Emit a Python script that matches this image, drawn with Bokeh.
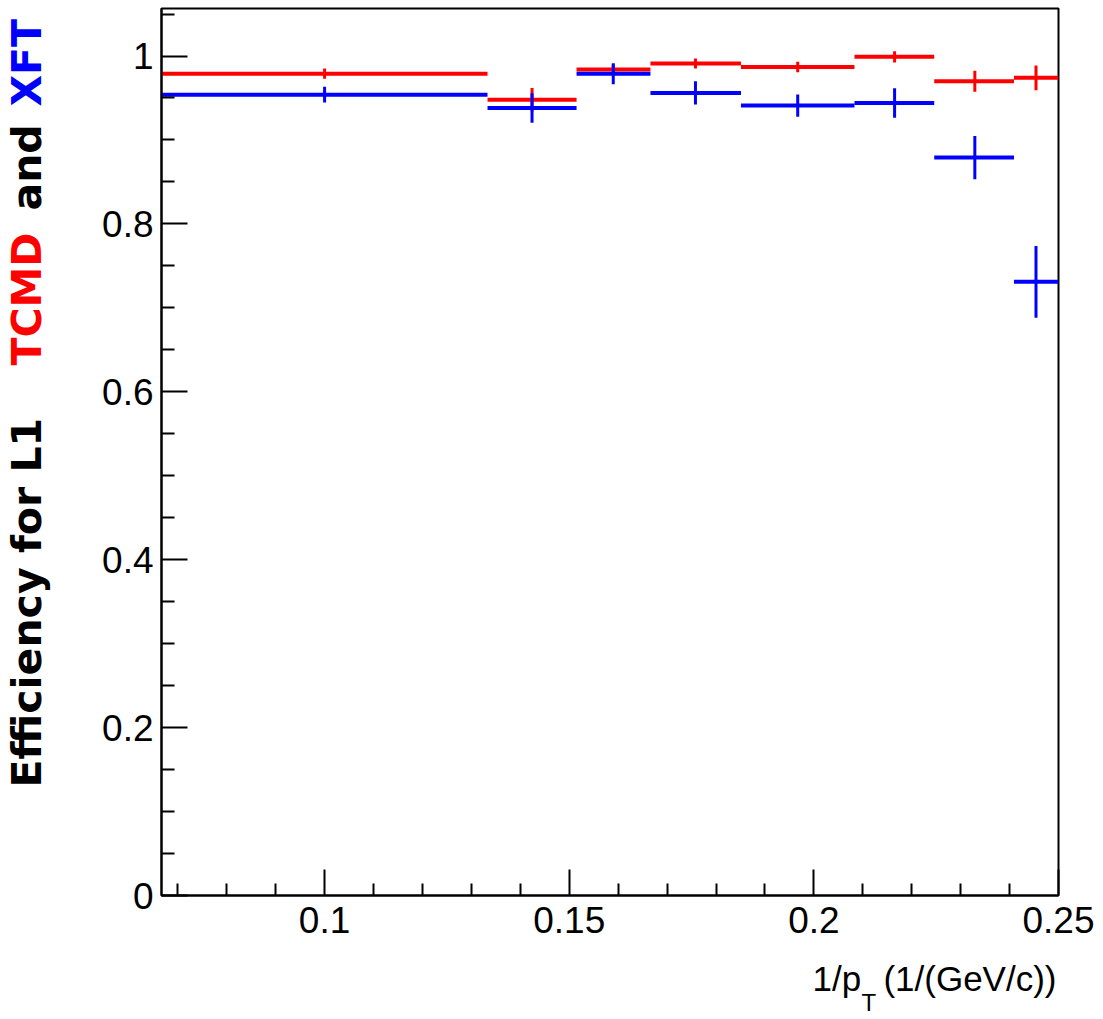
from bokeh.plotting import figure
from bokeh.models import Range1d, FixedTicker, CustomJSTickFormatter, Title
from bokeh.embed import file_html
from bokeh.resources import INLINE

# ---- data ----
bin_lo = [0.06667, 0.1333, 0.1515, 0.1666, 0.1851, 0.2083, 0.2246, 0.2409]
bin_hi = [0.1333, 0.1515, 0.1666, 0.1851, 0.2083, 0.2246, 0.2409, 0.25]
x_center = [0.1000, 0.1424, 0.1590, 0.1758, 0.1967, 0.2165, 0.2329, 0.2454]
tcmd_eff = [0.979, 0.948, 0.984, 0.991, 0.987, 0.999, 0.970, 0.974]
tcmd_err = [0.006, 0.014, 0.006, 0.006, 0.0063, 0.0068, 0.0125, 0.0147]
xft_eff = [0.954, 0.938, 0.979, 0.956, 0.941, 0.944, 0.879, 0.731]
xft_err = [0.0095, 0.0175, 0.0125, 0.0139, 0.0133, 0.0175, 0.0258, 0.0427]

x_major_ticks = [0.1, 0.15, 0.2, 0.25]
x_minor_ticks = [0.07, 0.08, 0.09, 0.11, 0.12, 0.13, 0.14, 0.16, 0.17, 0.18,
                 0.19, 0.21, 0.22, 0.23, 0.24]
y_major_ticks = [0, 0.2, 0.4, 0.6, 0.8, 1.0]
y_minor_ticks = [0.05, 0.1, 0.15, 0.25, 0.3, 0.35, 0.45, 0.5, 0.55, 0.65, 0.7,
                 0.75, 0.85, 0.9, 0.95, 1.05]

RED = "#ff0000"
BLUE = "#0000ff"
TICK_FONT = "Liberation Sans"

p = figure(width=1100, height=1015, output_backend="svg", toolbar_location=None,
           x_range=Range1d(1/15, 0.25), y_range=Range1d(0, 1.0566),
           min_border_left=161, min_border_right=42, min_border_top=8,
           min_border_bottom=120)
p.grid.visible = False
p.outline_line_color = "black"
p.outline_line_width = 2
p.background_fill_color = "white"
p.border_fill_color = "white"

def lo_minus(v, e):
    return [a - b for a, b in zip(v, e)]

def hi_plus(v, e):
    return [a + b for a, b in zip(v, e)]

# TCMD (red)
p.segment(x0=bin_lo, x1=bin_hi, y0=tcmd_eff, y1=tcmd_eff, line_color=RED,
          line_width=4, line_cap="butt")
p.segment(x0=x_center, x1=x_center, y0=lo_minus(tcmd_eff, tcmd_err),
          y1=hi_plus(tcmd_eff, tcmd_err), line_color=RED, line_width=3,
          line_cap="butt")
# XFT (blue)
p.segment(x0=bin_lo, x1=bin_hi, y0=xft_eff, y1=xft_eff, line_color=BLUE,
          line_width=4, line_cap="butt")
p.segment(x0=x_center, x1=x_center, y0=lo_minus(xft_eff, xft_err),
          y1=hi_plus(xft_eff, xft_err), line_color=BLUE, line_width=3,
          line_cap="butt")

fmt = CustomJSTickFormatter(code="return (Math.round(tick*1000)/1000).toString();")

for ax, maj, mnr in ((p.xaxis[0], x_major_ticks, x_minor_ticks),
                     (p.yaxis[0], y_major_ticks, y_minor_ticks)):
    ax.ticker = FixedTicker(ticks=maj, minor_ticks=mnr)
    ax.formatter = fmt
    ax.axis_line_width = 2
    ax.axis_line_color = "black"
    ax.major_tick_line_width = 2
    ax.minor_tick_line_width = 2
    ax.major_tick_out = 0
    ax.minor_tick_out = 0
    ax.major_label_text_font = TICK_FONT
    ax.major_label_text_font_size = "37px"
    ax.major_label_text_color = "black"

p.xaxis[0].major_label_standoff = 11
p.yaxis[0].major_label_standoff = 8
p.xaxis[0].major_tick_in = 26
p.xaxis[0].minor_tick_in = 12
p.yaxis[0].major_tick_in = 26
p.yaxis[0].minor_tick_in = 13


def spacer(standoff):
    # an empty (blank) title that only reserves room in a side panel
    return Title(text=" ", text_font_size="20px", standoff=standoff)

# ---- x-axis title: 1/p_T (1/(GeV/c)) ----
p.add_layout(spacer(19), "below")
xt = dict(text_font=TICK_FONT, text_font_size="35px", text_font_style="normal",
          text_color="black", vertical_align="middle", standoff=-43)
p.add_layout(Title(text="1/p", align="left", offset=651, **xt), "below")
p.add_layout(Title(text="(1/(GeV/c))", align="right", offset=2, **xt), "below")
p.add_layout(spacer(0), "below")
p.add_layout(Title(text="T", align="left", offset=700, text_font=TICK_FONT,
                   text_font_size="24px", text_font_style="normal",
                   text_color="black", vertical_align="middle", standoff=-30),
             "below")

# ---- y-axis title: Efficiency for L1 TCMD and XFT (multicoloured) ----
p.add_layout(spacer(49), "left")
yt = dict(text_font="DejaVu Sans", text_font_style="bold", text_font_size="41px",
          vertical_align="middle", align="left", standoff=-50)
for txt, off, col in (("Efficiency for L1", 108, "black"),
                      ("TCMD", 530, RED),
                      ("and", 685, "black"),
                      ("XFT", 789, BLUE)):
    p.add_layout(Title(text=txt, offset=off, text_color=col, **yt), "left")

open("out.html", "w").write(file_html(p, INLINE))
